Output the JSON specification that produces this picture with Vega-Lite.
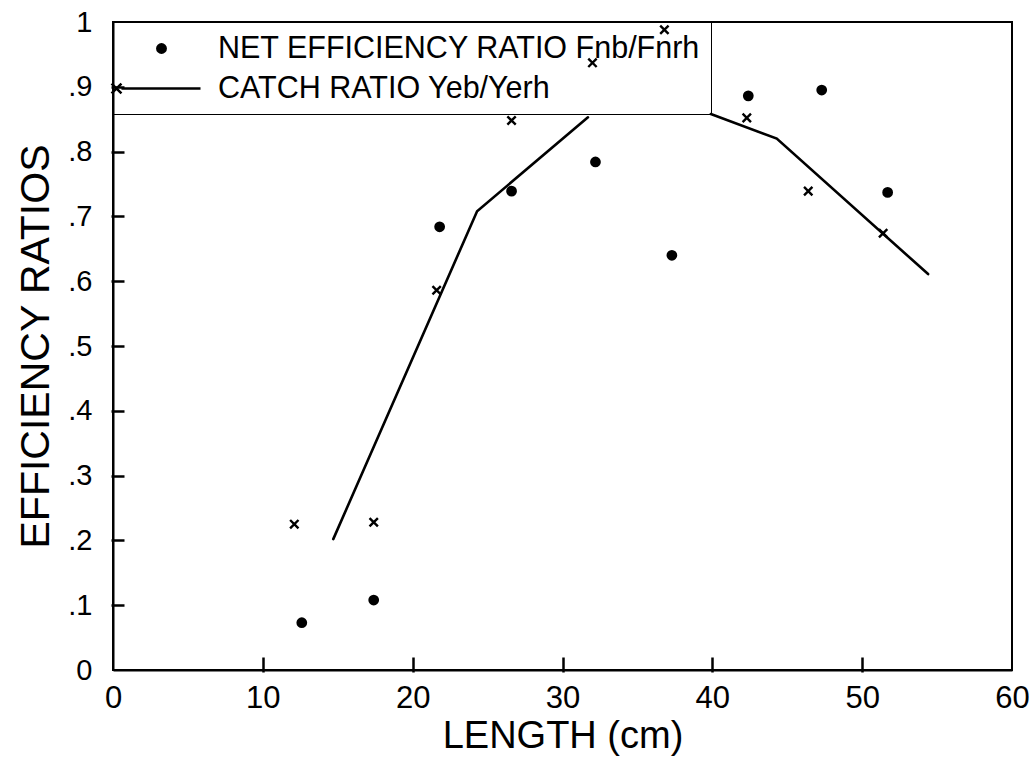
{
  "$schema": "https://vega.github.io/schema/vega-lite/v6.json",
  "width": 899,
  "height": 648,
  "autosize": {"type": "none"},
  "padding": {"left": 113, "top": 22, "right": 22, "bottom": 87},
  "background": "white",
  "datasets": {
    "curve": [
      {"length": 14.7, "ratio": 0.202, "part": "rise"},
      {"length": 24.3, "ratio": 0.708, "part": "rise"},
      {"length": 31.7, "ratio": 0.853, "part": "rise"},
      {"length": 39.9, "ratio": 0.858, "part": "fall"},
      {"length": 44.3, "ratio": 0.82, "part": "fall"},
      {"length": 54.4, "ratio": 0.611, "part": "fall"}
    ],
    "obs": [
      {"length": 12.6, "ratio": 0.073, "series": "NET EFFICIENCY RATIO Fnb/Fnrh"},
      {"length": 17.4, "ratio": 0.108, "series": "NET EFFICIENCY RATIO Fnb/Fnrh"},
      {"length": 21.8, "ratio": 0.684, "series": "NET EFFICIENCY RATIO Fnb/Fnrh"},
      {"length": 26.6, "ratio": 0.739, "series": "NET EFFICIENCY RATIO Fnb/Fnrh"},
      {"length": 32.2, "ratio": 0.784, "series": "NET EFFICIENCY RATIO Fnb/Fnrh"},
      {"length": 37.3, "ratio": 0.64, "series": "NET EFFICIENCY RATIO Fnb/Fnrh"},
      {"length": 42.4, "ratio": 0.886, "series": "NET EFFICIENCY RATIO Fnb/Fnrh"},
      {"length": 47.3, "ratio": 0.895, "series": "NET EFFICIENCY RATIO Fnb/Fnrh"},
      {"length": 51.7, "ratio": 0.737, "series": "NET EFFICIENCY RATIO Fnb/Fnrh"},
      {"length": 12.1, "ratio": 0.225, "series": "CATCH RATIO Yeb/Yerh"},
      {"length": 17.4, "ratio": 0.228, "series": "CATCH RATIO Yeb/Yerh"},
      {"length": 21.6, "ratio": 0.586, "series": "CATCH RATIO Yeb/Yerh"},
      {"length": 26.6, "ratio": 0.848, "series": "CATCH RATIO Yeb/Yerh"},
      {"length": 32.0, "ratio": 0.937, "series": "CATCH RATIO Yeb/Yerh"},
      {"length": 36.8, "ratio": 0.988, "series": "CATCH RATIO Yeb/Yerh"},
      {"length": 42.3, "ratio": 0.852, "series": "CATCH RATIO Yeb/Yerh"},
      {"length": 46.4, "ratio": 0.739, "series": "CATCH RATIO Yeb/Yerh"},
      {"length": 51.4, "ratio": 0.674, "series": "CATCH RATIO Yeb/Yerh"}
    ]
  },
  "resolve": {"axis": {"x": "independent", "y": "independent"}},
  "layer": [
    {
      "data": {"name": "curve"},
      "mark": {"type": "line", "color": "black", "strokeWidth": 2.6, "strokeCap": "round", "strokeJoin": "miter"},
      "encoding": {
        "x": {
          "field": "length",
          "type": "quantitative",
          "scale": {"domain": [0, 60], "nice": false, "zero": false},
          "axis": {
            "orient": "bottom",
            "offset": -13,
            "title": null,
            "values": [10, 20, 30, 40, 50],
            "domain": false,
            "labels": false,
            "ticks": true,
            "tickSize": 15,
            "tickColor": "black",
            "tickWidth": 2.5
          }
        },
        "y": {
          "field": "ratio",
          "type": "quantitative",
          "scale": {"domain": [0, 1], "nice": false},
          "axis": {
            "orient": "left",
            "offset": -11,
            "title": null,
            "values": [0.1, 0.2, 0.3, 0.4, 0.5, 0.6, 0.7, 0.8, 0.9],
            "domain": false,
            "labels": false,
            "ticks": true,
            "tickSize": 13,
            "tickColor": "black",
            "tickWidth": 2.5
          }
        },
        "detail": {"field": "part"}
      }
    },
    {
      "data": {"name": "obs"},
      "transform": [{"filter": "datum.series == 'NET EFFICIENCY RATIO Fnb/Fnrh'"}],
      "mark": {"type": "point", "shape": "circle", "filled": true, "size": 70, "fill": "black", "stroke": "black", "strokeWidth": 2.4, "opacity": 1},
      "encoding": {
        "x": {
          "field": "length",
          "type": "quantitative",
          "scale": {"domain": [0, 60], "nice": false, "zero": false},
          "axis": {
            "orient": "bottom",
            "title": "LENGTH (cm)",
            "values": [0, 10, 20, 30, 40, 50, 60],
            "ticks": false,
            "labelPadding": 13,
            "labelFontSize": 31,
            "titleFontSize": 38,
            "titlePadding": 4,
            "labelFlush": false
          }
        },
        "y": {
          "field": "ratio",
          "type": "quantitative",
          "scale": {"domain": [0, 1], "nice": false},
          "axis": {
            "orient": "left",
            "title": "EFFICIENCY RATIOS",
            "values": [0, 0.1, 0.2, 0.3, 0.4, 0.5, 0.6, 0.7, 0.8, 0.9, 1],
            "labelExpr": "datum.value == 0 ? '0' : datum.value == 1 ? '1' : slice(format(datum.value, '.1f'), 1)",
            "ticks": false,
            "labelPadding": 21,
            "labelFontSize": 29,
            "titleFontSize": 41,
            "titlePadding": 10,
            "labelFlush": false
          }
        }
      }
    },
    {
      "data": {"name": "obs"},
      "transform": [{"filter": "datum.series == 'CATCH RATIO Yeb/Yerh'"}],
      "mark": {"type": "point", "shape": "M-1,-1L1,1M-1,1L1,-1", "filled": false, "size": 70, "stroke": "black", "strokeWidth": 2.4, "opacity": 1},
      "encoding": {
        "x": {"field": "length", "type": "quantitative", "axis": null},
        "y": {"field": "ratio", "type": "quantitative", "axis": null}
      }
    },
    {
      "data": {"name": "obs"},
      "mark": {"type": "point", "filled": false, "size": 900, "opacity": 0, "color": "black", "strokeWidth": 2.5},
      "encoding": {
        "x": {"field": "length", "type": "quantitative", "axis": null},
        "y": {"field": "ratio", "type": "quantitative", "axis": null},
        "shape": {
          "field": "series",
          "type": "nominal",
          "scale": {
            "domain": ["NET EFFICIENCY RATIO Fnb/Fnrh", "CATCH RATIO Yeb/Yerh"],
            "range": [
              "M0.28,0A0.28,0.28,0,1,1,-0.28,0A0.28,0.28,0,1,1,0.28,0ZM0.12,0A0.12,0.12,0,1,1,-0.12,0A0.12,0.12,0,1,1,0.12,0ZM-0.05,0L0.05,0",
              "M-3.33,-0.33L-2.67,0.33M-3.33,0.33L-2.67,-0.33M-2.67,0L2.6,0"
            ]
          },
          "legend": {
            "title": null,
            "orient": "top-left",
            "offset": 0,
            "padding": 10,
            "fillColor": "transparent",
            "strokeColor": "black",
            "symbolSize": 900,
            "symbolOffset": 22,
            "labelOffset": 40,
            "rowPadding": 8,
            "labelFontSize": 30.5,
            "labelLimit": 800,
            "symbolOpacity": 1,
            "symbolStrokeColor": "black",
            "symbolStrokeWidth": 2.5
          }
        }
      }
    }
  ],
  "config": {
    "font": "Liberation Sans",
    "view": {"stroke": "black", "strokeWidth": 2},
    "axis": {
      "grid": false,
      "domainColor": "black",
      "domainWidth": 2,
      "labelColor": "black",
      "labelFont": "Liberation Sans",
      "titleFont": "Liberation Sans",
      "titleColor": "black",
      "titleFontWeight": "normal"
    },
    "legend": {
      "labelColor": "black",
      "labelFont": "Liberation Sans"
    }
  }
}
